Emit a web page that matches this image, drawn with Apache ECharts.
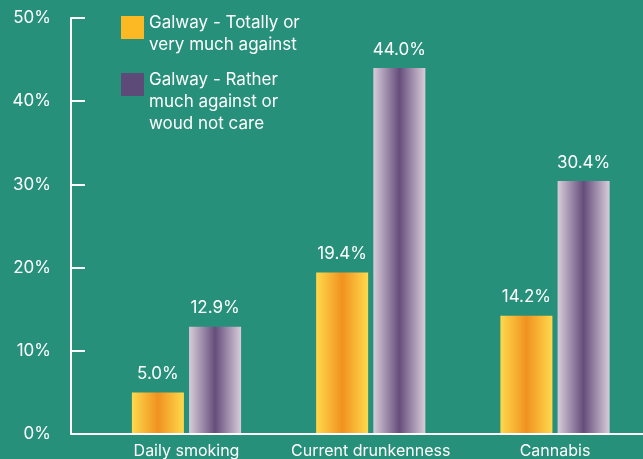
<!DOCTYPE html>
<html>
<head>
<meta charset="utf-8">
<script src="https://cdn.jsdelivr.net/npm/echarts@6/dist/echarts.min.js"></script>
<style>
  html, body { margin: 0; padding: 0; background: #26907a; }
  #chart { width: 643px; height: 459px; }
</style>
</head>
<body>
<div id="chart"></div>
<script>
const categories = ['Daily smoking', 'Current drunkenness', 'Cannabis']
const seriesNames = ['Galway - Totally or\nvery much against', 'Galway - Rather\nmuch against or\nwoud not care']
const totallyAgainst = [5.0, 19.4, 14.2]
const ratherAgainst = [12.9, 44.0, 30.4]
const yTicks = [0, 10, 20, 30, 40, 50]

const font = 'Inter'
const white = '#ffffff'

const yellowGrad = {
  type: 'linear', x: 0, y: 0, x2: 1, y2: 0,
  colorStops: [
    { offset: 0, color: '#ffd94c' },
    { offset: 0.5, color: '#f09220' },
    { offset: 1, color: '#ffd94c' },
  ],
}
const purpleGrad = {
  type: 'linear', x: 0, y: 0, x2: 1, y2: 0,
  colorStops: [
    { offset: 0, color: '#d8cdda' },
    { offset: 0.5, color: '#664d7c' },
    { offset: 1, color: '#d8cdda' },
  ],
}

// blank spacer line so the first text line sits level with the legend square
const legendFormatter = (name) => (name === seriesNames[0] ? '{g1| }\n' : '{g2| }\n') + name

const chart = echarts.init(document.getElementById('chart'))

chart.setOption({
  backgroundColor: '#26907a',
  animation: false,
  textStyle: { fontFamily: font },
  // category ticks sit on the group centres (boundaryGap off)
  grid: { left: 186.5, right: 88, top: 18, bottom: 25, containLabel: false },
  legend: {
    orient: 'vertical',
    left: 116,
    top: -6,
    itemWidth: 23,
    itemHeight: 23,
    itemGap: -22,
    icon: 'rect',
    selectedMode: false,
    formatter: legendFormatter,
    textStyle: {
      color: white, fontSize: 17, lineHeight: 22, fontFamily: font,
      rich: {
        g1: { fontSize: 1, lineHeight: 13, height: 13 },
        g2: { fontSize: 1, lineHeight: 35, height: 35 },
      },
    },
    data: [
      { name: seriesNames[0], itemStyle: { color: '#fdb924' } },
      { name: seriesNames[1], itemStyle: { color: '#5e4a78' } },
    ],
  },
  xAxis: {
    type: 'category',
    data: categories,
    boundaryGap: false,
    axisLine: { show: false },
    axisTick: { show: false },
    axisLabel: { color: white, fontSize: 16, margin: 9, interval: 0, fontFamily: font },
  },
  yAxis: {
    type: 'value',
    min: yTicks[0],
    max: yTicks[yTicks.length - 1],
    interval: 10,
    offset: 115.5,
    axisLine: { show: true, lineStyle: { color: white, width: 2 } },
    axisTick: { show: true, inside: true, length: 14, lineStyle: { color: white, width: 2 } },
    splitLine: { show: false },
    axisLabel: { color: white, fontSize: 17, margin: 20, formatter: '{value}%', fontFamily: font },
  },
  graphic: [
    {
      type: 'line',
      shape: { x1: 71, y1: 434, x2: 643, y2: 434 },
      style: { stroke: white, lineWidth: 2 },
      z: 10,
    },
  ],
  series: [
    {
      name: seriesNames[0],
      type: 'bar',
      data: totallyAgainst,
      barWidth: 52,
      barGap: '10%',
      clip: false,
      itemStyle: { color: yellowGrad },
      label: {
        show: true, position: 'top', distance: 10, color: white, fontSize: 17, fontFamily: font,
        formatter: (p) => p.value.toFixed(1) + '%',
      },
    },
    {
      name: seriesNames[1],
      type: 'bar',
      data: ratherAgainst,
      barWidth: 52,
      barGap: '10%',
      clip: false,
      itemStyle: { color: purpleGrad },
      label: {
        show: true, position: 'top', distance: 10, color: white, fontSize: 17, fontFamily: font,
        formatter: (p) => p.value.toFixed(1) + '%',
      },
    },
  ],
})
</script>
</body>
</html>
